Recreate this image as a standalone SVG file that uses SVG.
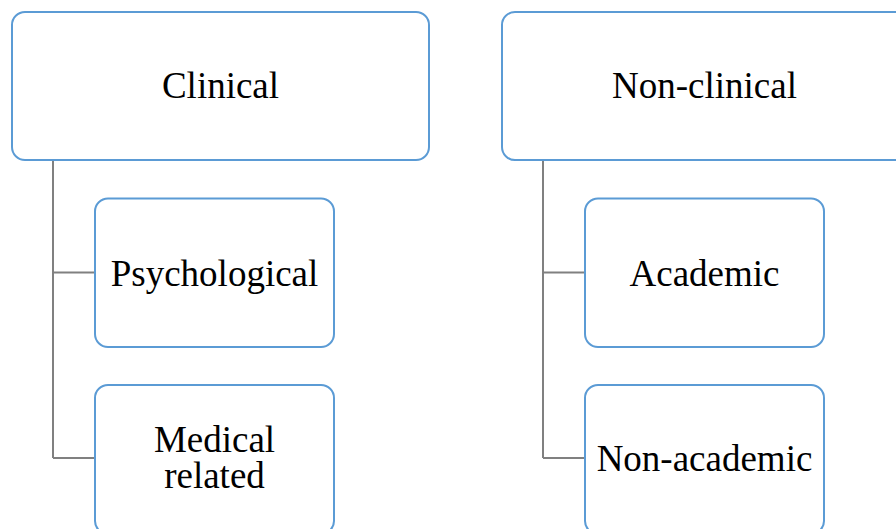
<svg xmlns="http://www.w3.org/2000/svg" width="896" height="529" viewBox="0 0 896 529">
  <style>
    .box { fill: #ffffff; stroke: #5b9bd5; stroke-width: 2; }
    .link { fill: none; stroke: #808080; stroke-width: 2; }
    .label { font-family: "Liberation Serif", "Times New Roman", Tinos, "DejaVu Serif", serif; font-size: 37px; fill: #000000; text-anchor: middle; }
  </style>
  <rect width="896" height="529" fill="#ffffff"/>

  <!-- tree connectors -->
  <g id="connectors">
    <path class="link" d="M53 160 V458 M53 272.5 H95 M53 458 H95"/>
    <path class="link" d="M543 160 V458 M543 272.5 H585 M543 458 H585"/>
  </g>

  <!-- clinical branch -->
  <g id="clinical">
    <rect class="box" x="12" y="12" width="417" height="148" rx="13"/>
    <text class="label" x="220.5" y="98" font-family="Liberation Serif, serif">Clinical</text>
  </g>
  <g id="psychological">
    <rect class="box" x="95" y="198.5" width="239" height="148.5" rx="13"/>
    <text class="label" x="214.5" y="286" font-family="Liberation Serif, serif">Psychological</text>
  </g>
  <g id="medical-related">
    <rect class="box" x="95" y="385" width="239" height="149" rx="13"/>
    <text class="label" x="214.5" y="451.5" font-family="Liberation Serif, serif"><tspan x="214.5" y="451.5">Medical</tspan><tspan x="214.5" y="488">related</tspan></text>
  </g>

  <!-- non-clinical branch -->
  <g id="non-clinical">
    <rect class="box" x="502" y="12" width="417" height="148" rx="13"/>
    <text class="label" x="704.5" y="98" font-family="Liberation Serif, serif">Non-clinical</text>
  </g>
  <g id="academic">
    <rect class="box" x="585" y="198.5" width="239" height="148.5" rx="13"/>
    <text class="label" x="704.5" y="286" font-family="Liberation Serif, serif">Academic</text>
  </g>
  <g id="non-academic">
    <rect class="box" x="585" y="385" width="239" height="149" rx="13"/>
    <text class="label" x="704.5" y="471" font-family="Liberation Serif, serif">Non-academic</text>
  </g>
</svg>
